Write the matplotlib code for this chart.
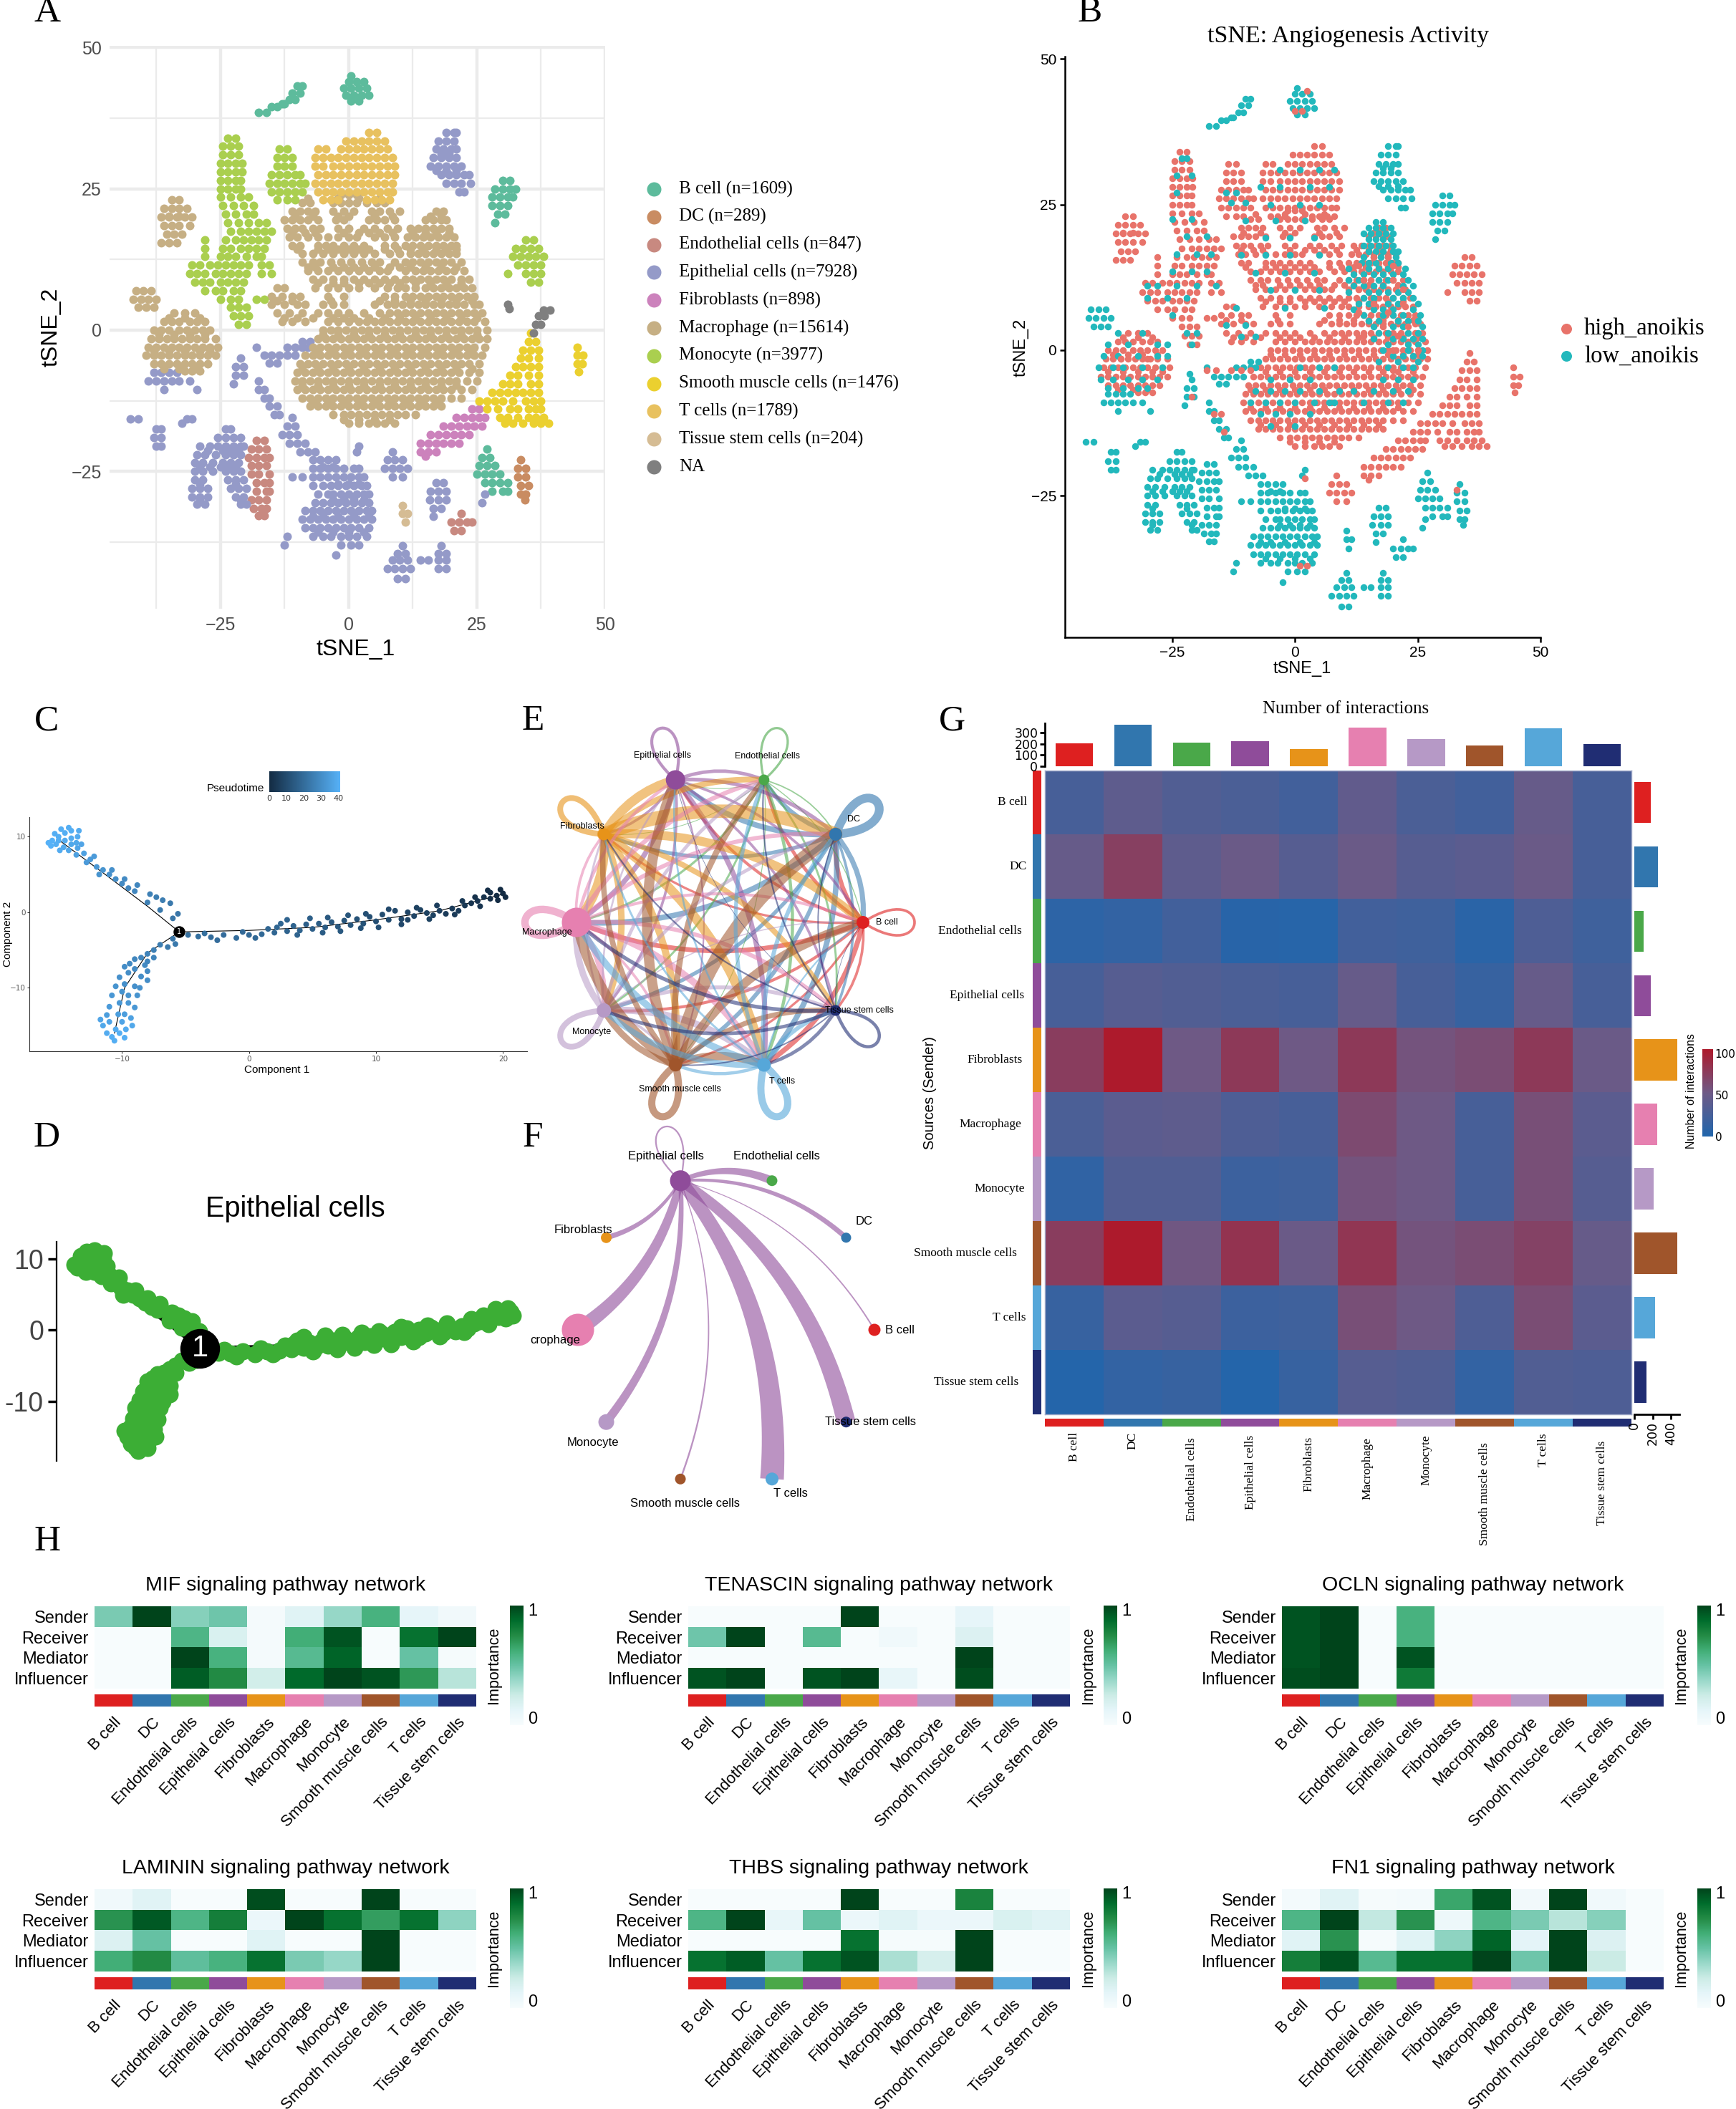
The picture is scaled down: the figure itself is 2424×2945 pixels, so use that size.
"""Multi-panel single cell figure: tSNE maps, trajectories, cell chat networks and heatmaps."""

import matplotlib
matplotlib.use("Agg")
import matplotlib.pyplot as plt
import numpy as np
from matplotlib.cm import ScalarMappable
from matplotlib.colors import LinearSegmentedColormap, ListedColormap, Normalize
from matplotlib.patches import FancyArrowPatch, PathPatch, Polygon
from matplotlib.path import Path

W, H = 2424, 2945
SERIF = "Liberation Serif"
SANS = "Liberation Sans"

# ---- panel A / B: tSNE points, as (y, [x, ...]) rows
macro_rows = [
    (24, [-1.5, 0, 1.5]),
    (22.5, [-9, -7.5, -3, -1.5, 0, 1.5, 3.5, 5.5, 7]),
    (21, [-11, -9.5, -8, -6.5, -3, -1, 1, 4.5, 6, 8, 10, 17, 18.5]),
    (19.5, [-12.5, -11, -9.5, -8, -6, -2.5, -1, 4, 5.5, 7, 9, 15, 16.5, 18, 19]),
    (18, [-12, -10.5, -9, -7, -5.5, -2, 0, 3, 5, 7.5, 9.5, 12, 13.5, 15, 16.5, 18, 19.5]),
    (16.5, [-11.5, -10, -8, -6, -4, -2, 0, 1.5, 5, 7, 9, 11.5, 13, 14.5, 16, 17.5, 19, 20.5]),
    (15, [-11, -9.5, -6, -4.5, -3, -1, 1, 3, 7, 9, 11, 12.5, 14, 15.5, 17, 18.5, 20, 21]),
    (13.5, [-9, -7, -5, -3, -1, 1, 3, 5, 8, 10, 12, 13.5, 15, 16.5, 18, 19.5, 21]),
    (12, [-9, -7, -5.5, -3.5, -1.5, 0.5, 2.5, 4.5, 6, 9, 11, 12.5, 14, 15.5, 17, 18.5, 20, 22]),
    (10.5, [-8, -6, -4, -2, 0, 2, 4, 6, 7.5, 11, 13, 14.5, 16, 17.5, 19, 20.5, 22.5]),
    (9, [-7, -5, -3, -1, 1, 3, 5, 7, 9, 11, 12.5, 14, 15.5, 17, 18.5, 20, 22, 23.5]),
    (7.5, [-14, -12.5, -6.5, -4, -2, 0, 2, 5, 7.5, 9.5, 11, 13, 15, 16.5, 18, 19.5, 21, 22.5, 24]),
    (6, [-15, -13, -11, -9.5, -4, -1, 7, 9, 11, 12.5, 14, 15.5, 17, 18.5, 20, 21.5, 23, 24.5]),
    (4.5, [-15, -12.5, -10, -8.5, -5, -3, -1, 5, 7.5, 9, 10.5, 12, 13.5, 15, 16.5, 18, 19.5, 21, 22.5, 24.5, 25.5]),
    (3, [-14, -11.5, -9, -6, -4, -2, 0, 3, 6, 8, 9.5, 11, 12.5, 14, 15.5, 17, 18.5, 20, 21.5, 23, 24.5, 26]),
    (1.5, [-13, -11, -8.5, -4, -2, 0, 2, 3.5, 5, 6.5, 8, 9.5, 11, 12.5, 14, 15.5, 17, 18.5, 20, 21.5, 23, 24.5, 26.5]),
    (0, [-5, -3.5, -2, -0.5, 1, 2.5, 4, 5.5, 7, 8.5, 10, 11.5, 13, 14.5, 16, 17.5, 19, 20.5, 22, 23.5, 25, 27]),
    (-1.5, [-6, -4.5, -3, -1.5, 0, 1.5, 3, 4.5, 6, 7.5, 9, 10.5, 12, 13.5, 15, 16.5, 18, 19.5, 21, 22.5, 24, 25.5, 27]),
    (-3, [-7, -5.5, -4, -2.5, -1, 0.5, 2, 3.5, 5, 6.5, 8, 9.5, 11, 12.5, 14, 15.5, 17, 18.5, 20, 21.5, 23, 24.5, 26.5]),
    (-4.5, [-8.5, -7, -5.5, -4, -2.5, -1, 0.5, 2, 3.5, 5, 6.5, 8, 9.5, 11, 12.5, 14, 15.5, 17, 18.5, 20, 21.5, 23, 24.5, 26]),
    (-6, [-9.5, -8, -6.5, -5, -3.5, -2, -0.5, 1, 2.5, 4, 5.5, 7, 8.5, 10, 11.5, 13, 14.5, 16, 17.5, 19, 20.5, 22, 23.5, 25.5]),
    (-7.5, [-10, -8.5, -7, -5.5, -4, -2.5, -1, 0.5, 2, 3.5, 5, 6.5, 8, 9.5, 11, 12.5, 14, 15.5, 17, 18.5, 20, 21.5, 23.5, 25.5]),
    (-9, [-10.5, -9, -7.5, -6, -4.5, -3, -1.5, 0, 1.5, 3, 4.5, 6, 7.5, 9, 10.5, 12, 13.5, 15, 16.5, 18, 19.5, 21, 23, 25]),
    (-10.5, [-10, -8.5, -7, -5.5, -4, -2.5, -1, 0.5, 2, 3.5, 5, 6.5, 8, 9.5, 11, 12.5, 14, 15.5, 17, 18.5, 20, 22, 24]),
    (-12, [-9, -7.5, -6, -4.5, -3, -1.5, 0, 1.5, 3, 4.5, 6, 7.5, 9, 10.5, 12, 13.5, 15, 16.5, 18, 20, 22]),
    (-13.5, [-7.5, -6, -4.5, -3, -1.5, 0, 1.5, 3, 4.5, 6, 7.5, 9, 10.5, 12, 13.5, 15, 16.5, 18]),
    (-15, [-3, -1, 0.5, 2, 3.5, 5, 6.5, 8, 9.5, 11, 13]),
    (-16.5, [0, 2, 4, 5.5, 7, 9]),
    # left round cluster
    (3, [-34, -32, -30]),
    (1.5, [-36, -34.5, -33, -31, -29.5, -28]),
    (0, [-38, -36.5, -35, -33, -31.5, -30, -28.5, -27]),
    (-1.5, [-38.5, -37, -35.5, -34, -32.5, -31, -29.5, -28, -26]),
    (-3, [-39, -37.5, -36, -34.5, -33, -31.5, -30, -28.5, -27, -25.5]),
    (-4.5, [-39.5, -38, -36.5, -35, -33.5, -32, -30.5, -29, -27.5, -26]),
    (-6, [-38, -36.5, -35, -33.5, -32, -30.5, -29, -27.5]),
    (-7.2, [-32, -30.5, -29]),
    # upper left cluster
    (23, [-34.5, -33]),
    (21.5, [-36, -34.5, -33, -31.5]),
    (20, [-36.5, -35, -33.5, -32, -30.5]),
    (18.5, [-36, -34.5, -33, -31]),
    (17, [-35.5, -34, -32.5]),
    (15.5, [-36.5, -35, -33.5]),
    # rows that sit between the rows above
    (23.3, [-8, -2, 2, 6]),
    (20.2, [-10.5, -7, -2, 0, 5, 8.5, 16, 18, -35, -33]),
    (17.2, [-11, -8.5, -6.5, -1, 2, 4, 6, 8.5, 12.5, 15, 17, 19.5]),
    (14.3, [-10, -6, -4, -2, 0, 2, 4, 7, 9.5, 12, 14.5, 17, 19, 21]),
    (11.2, [-8, -6.5, -3, -1, 1, 3, 5, 8, 10, 12, 15, 18, 21]),
    (8.3, [-6, -3, -1, 2, 4, 6, 8, 10, 13, 16, 19, 22]),
    (5.2, [-14, -11, -3.5, 6, 9, 12, 15, 18, 21, 24]),
    (2.2, [-12.5, -10, -7, -3, -1, 1, 4, 7, 10, 13, 16, 19, 22, 25, -35, -32, -29]),
    (-0.8, [-5, -2, 1, 4, 7, 10, 13, 16, 19, 22, 25, -37, -34, -31, -28]),
    (-3.7, [-6, -3, 0, 3, 6, 9, 12, 15, 18, 21, 24, -38, -35, -32, -29, -27]),
    (-6.8, [-9, -6, -3, 0, 3, 6, 9, 12, 15, 18, 21, 24, -36, -33, -30]),
    (-9.8, [-9, -6, -3, 0, 3, 6, 9, 12, 15, 18, 21]),
    (-12.8, [-7, -4, -1, 2, 5, 8, 11, 14, 17]),
    (-15.8, [-1, 2, 5, 8]),
]
macro_island_rows = [
    (7, [-41.5, -40, -38.5]),
    (5.5, [-42, -40.5, -39, -37.5]),
    (4, [-41, -39.5, -38]),
]
mono_rows = [
    (34, [-23.5, -22]),
    (32.5, [-24.5, -23, -21.5]),
    (31, [-24.5, -23, -21.5]),
    (29.5, [-25, -23.5, -22, -20.8]),
    (28, [-25, -23.5, -22, -20.8]),
    (26.5, [-25, -23.5, -22, -21]),
    (25, [-25, -23.5, -22, -21]),
    (23.5, [-25, -23, -21, -19.5]),
    (22, [-24.5, -22.5, -20.5, -18.5]),
    (20.5, [-24, -22, -20, -18.5]),
    (19, [-23.5, -21.5, -19.5, -17.5, -16]),
    (17.5, [-23, -21, -19.5, -18, -16.5, -15]),
    (16, [-28, -24, -22, -20.5, -19, -17.5, -16]),
    (14.5, [-28, -24.5, -23, -21, -19.5, -18, -16.5]),
    (13, [-28, -25, -23.5, -22, -20, -18, -17]),
    (11.5, [-30.5, -29, -27, -25.5, -24, -22.5, -21, -19.5, -17, -15.5]),
    (10, [-31, -29.5, -28, -26, -24.5, -23, -21.5, -20, -17, -15]),
    (8.5, [-30, -28.5, -27, -25, -23.5, -22, -20.5]),
    (7, [-28, -26, -24.5, -22.5, -21]),
    (5.5, [-25, -23, -21.5, -18, -16.5]),
    (4, [-23, -21.5, -20]),
    (2.5, [-22.5, -21, -19.5]),
    (1, [-21.5, -20]),
    (32, [-13.5, -12]),
    (30.5, [-14, -12.5, -11]),
    (29, [-14, -12.5, -11]),
    (27.5, [-15, -13.5, -12, -10.5, -9.5]),
    (26, [-15.5, -14, -12.5, -11, -9.5, -8.5]),
    (24.5, [-15, -13.5, -12, -10.5, -9]),
    (23, [-14, -12, -10.5]),
    (16, [34.5, 36]),
    (14.5, [32.5, 34, 35.5, 37]),
    (13, [32, 33.5, 35, 36.5, 38]),
    (11.5, [33, 34.5, 36, 37.5]),
    (10, [31, 34.5, 36, 37.5]),
    (8.5, [35.5, 37]),
]
tcell_rows = [
    (35, [4, 5.5]),
    (33.5, [-0.5, 1, 2.5, 4, 5.5, 7]),
    (32, [-6, -4.5, -1.5, 0, 1.5, 3, 4.5, 6, 7.5]),
    (30.5, [-6.5, -5, -3.5, -2, -0.5, 1, 2.5, 4, 5.5, 7, 8.5]),
    (29, [-6.5, -5, -3, -1.5, 0, 1.5, 3, 4.5, 6, 7.5, 9]),
    (27.5, [-6, -4.5, -3, -1.5, 0, 1.5, 3, 4.5, 6, 7.5, 9]),
    (26, [-6.5, -5, -3.5, -2, -0.5, 1, 2.5, 4, 5.5, 7, 8.5]),
    (24.5, [-6, -4.5, -3, -1.5, 0, 1.5, 3, 4.5, 6, 7.5, 8.5]),
    (23, [-5, -3.5, -2, 3.5, 5, 6.5, 8]),
]
bcell_rows = [
    (45, [0.5]),
    (44, [0, 1.5, 3]),
    (42.8, [-1, 0.5, 2, 3.5]),
    (41.5, [-0.5, 1, 2.5, 4]),
    (40.5, [0.5, 2]),
    (38.5, [-17.5, -16]),
    (39.5, [-15, -14]),
    (40, [-13, -12.5]),
    (40.8, [-11.5, -10.5]),
    (42, [-11, -9.5]),
    (43.2, [-10, -9]),
    (26.5, [30, 31.5]),
    (25, [28.5, 30, 31.5, 32.5]),
    (23.5, [28, 29.5, 31, 32]),
    (22, [28, 29.5, 31]),
    (20.5, [29, 30.5]),
    (19, [28.5]),
    (-21, [27]),
    (-22.5, [26, 27.5]),
    (-24, [25.5, 27, 28.5]),
    (-25.5, [25, 26.5, 28, 29.5]),
    (-27, [26.5, 28, 29.5, 31]),
    (-28.5, [28, 30, 31]),
]
dc_rows = [
    (-23, [33.5]),
    (-24.5, [33, 34.5]),
    (-26, [33, 34.5]),
    (-27.5, [33.5, 35]),
    (-29, [33.5, 34.5]),
    (-30, [34.3]),
]
endo_rows = [
    (-19.5, [-18, -16.5]),
    (-21, [-19, -17.5, -16]),
    (-22.5, [-19.5, -18, -16.5, -15.5]),
    (-24, [-19, -17.5, -16]),
    (-25.5, [-19, -17.5, -15.5]),
    (-27, [-18, -16.5, -15.5]),
    (-28.5, [-18, -16, -15.5]),
    (-30, [-19, -17.5, -16]),
    (-31.5, [-18.5, -17, -16]),
    (-32.8, [-17.5, -16.5]),
    (-32.5, [22]),
    (-34, [20, 21.5, 23, 24]),
    (-35.5, [20.5, 22]),
]
fibro_rows = [
    (-14, [24, 25.5]),
    (-15.5, [21, 22.5, 24, 25.5, 26.5]),
    (-17, [18.5, 20, 21.5, 23, 24.5, 26]),
    (-18.5, [16, 17.5, 19, 20.5, 22, 23.5]),
    (-20, [14, 15.5, 17, 18.5, 20, 21.5]),
    (-21.5, [14, 15.5, 17]),
    (-22.3, [15]),
]
smooth_rows = [
    (-0.5, [35.5]),
    (-2, [35, 36.5]),
    (-3.5, [34, 35.5, 37]),
    (-5, [33.5, 35, 37]),
    (-6.5, [32.5, 34, 35.5, 37]),
    (-8, [31.5, 33, 35, 37]),
    (-9.5, [30, 31.5, 33, 35.5, 37]),
    (-11, [28, 29.5, 31, 32.5, 34, 35.5, 37]),
    (-12.5, [25.5, 27, 28.5, 30, 32, 34.5, 36, 37.5]),
    (-14, [27, 29, 31.5, 33, 35, 36.5, 37.5]),
    (-15.5, [29.5, 31, 33, 35, 36.5, 38]),
    (-16.5, [30.5, 32, 34, 36, 37.5, 39]),
    (-3, [44.5]),
    (-4.5, [44.5, 45.7]),
    (-6, [44.5, 45.5]),
    (-7.3, [44.8]),
]
stem_rows = [(-31, [10.5]), (-32.5, [10.5, 11.5]), (-34, [11])]
na_rows = [
    (3.5, [38, 39.2]),
    (2.5, [37, 38.2]),
    (1, [36.5, 37.5]),
    (-0.5, [36]),
    (4.5, [31]),
    (3.8, [31.3]),
]
epi_rows = [
    (35, [19, 20.5, 21]),
    (33.5, [17.5, 19, 20.5]),
    (32, [17, 18.5, 20, 21]),
    (30.5, [16.5, 18, 19.5, 21]),
    (29, [16, 17.5, 19, 20.5, 22]),
    (27.5, [18, 19.5, 21, 22.5, 23.5]),
    (26, [19, 20.5, 22, 23.8]),
    (24.5, [21.5, 22.5]),
    (-2, [-9, -7.5]),
    (-3, [-18, -12, -10.5, -9, -8]),
    (-4.5, [-16.5, -15, -13.5, -12, -10.5]),
    (-5.8, [-15.5, -14]),
    (-5, [-21]),
    (-6.5, [-22, -20.5]),
    (-8, [-22, -20.5]),
    (-9.5, [-22.5]),
    (-7.5, [-38, -36.5, -35, -33.5]),
    (-9, [-39, -37.5, -36, -34.5, -33, -31, -17.5]),
    (-10.5, [-36, -29.5, -17.5, -16.5]),
    (-12, [-16.5, -15.5]),
    (-13.5, [-15.5, -14]),
    (-15, [-14.5, -13.5]),
    (-15.7, [-42.5, -41, -31.5, -30.5]),
    (-16.5, [-32.5]),
    (-17.5, [-37.5, -36.5, -24, -23]),
    (-19, [-38, -36.5, -25.5, -24, -22.5, -21]),
    (-20.5, [-37.5, -36.5, -29, -27, -25.5, -24, -22.5, -21, -20.5]),
    (-22, [-29.5, -28, -26, -24, -22.5, -21]),
    (-23.5, [-30, -28.5, -26.5, -24.5, -23, -21.5]),
    (-25, [-30, -28.5, -26.5, -24, -22.5, -21]),
    (-26.5, [-30, -28.5, -23.5, -22, -20.5]),
    (-28, [-30.5, -29, -27.5, -23, -21.5, -20]),
    (-29.5, [-30.5, -29, -27.5, -22, -20.5]),
    (-30.8, [-29.5, -28, -21, -20]),
    (-15.5, [-11]),
    (-17, [-12, -10.5]),
    (-18.5, [-13, -11.5, -10]),
    (-20, [-11.5, -10, -8.5]),
    (-21.5, [-9.5, -8, -6.5, 1.5]),
    (-20.5, [2]),
    (-23, [-7, -5.5, -4, -2.5]),
    (-24.5, [-7, -5.5, -4, -2.5, -1, 1, 2]),
    (-26, [-11, -9, -7, -5.5, -4, -2.5, -1, 0.5, 2, 3]),
    (-27.5, [-7, -5, -3.5, -2, -0.5, 1, 2.5, 3.5]),
    (-29, [-6, -4, -3, -1.5, 0, 1.5, 3, 4, 26.5]),
    (-30.5, [-6.5, -5, -3.5, -2, -0.5, 1, 2.5, 4, 26]),
    (-32, [-8.5, -7, -5.5, -4, -2.5, -1, 0.5, 2, 3.5, 4.5]),
    (-33.5, [-9, -7.5, -6, -4.5, -3, -1.5, 0, 1.5, 3, 4.5]),
    (-35, [-8.5, -7, -5.5, -4, -2.5, -1, 0.5, 2, 4]),
    (-36.5, [-7, -5, -3.5, -1.5, 0, 1.5, 3.5, -12]),
    (-38, [-1.5, 0.5, 2, -12.5]),
    (-39.8, [-2.5]),
    (-27, [17, 18.5]),
    (-28.5, [16, 17.5, 19]),
    (-30, [15.8, 17.5, 19]),
    (-31.5, [16.5, 18]),
    (-33, [16.5]),
    (-38.2, [10.5, 18]),
    (-39.5, [9.5, 11, 17.5, 19]),
    (-40.7, [8.5, 10, 11.5, 14, 15.5, 17.5, 19]),
    (-42.2, [7.5, 9, 10.5, 12, 17.5, 19]),
    (-44, [9.5, 11]),
    # rows that sit between the rows above
    (-21.3, [-27.5, -24.5, -23, -21.5]),
    (-24.2, [-29, -27, -25, -23.5, -22, -3, -5]),
    (-27.2, [-29, -22, -2, 0, 2]),
    (-30, [-29, -21, -3, -1, 1, 3]),
    (-33, [-7, -5, -2, 1, 4]),
    (-35.8, [-6, -3, 0, 3]),
    (31.2, [18, 19.5]),
    (28.2, [17, 19, 21]),
]
epi_island_rows = [
    (-21.5, [8.5]),
    (-23, [7.5, 9, 10.5]),
    (-24.5, [7, 8.5, 10, 11.5]),
    (-26, [8.5, 10.5]),
]
# panel B only: points that differ from the cluster colouring
low_extra_rows = [
    (22, [16.5, 18]),
    (21, [15, 16.5, 18, 19.5]),
    (20, [14, 15.5, 17, 18.5, 20]),
    (19, [15, 16.5, 18, 19.5]),
    (18, [14, 15.5, 17, 18.5, 20]),
    (17, [15, 16.5, 18, 20, 21]),
    (16, [14, 16, 17.5, 19, 20.5]),
    (15, [13.5, 15, 16.5, 19.5, 21]),
    (14, [11, 15, 17, 19, 22.5]),
    (13, [12, 14, 16, 18, 20, 22]),
    (12, [11, 13, 17, 19, 23]),
    (11, [12, 14, 16, 18, 22, 24]),
    (10, [11, 15, 17, 19, 21, 23]),
    (9, [14, 16, 20, 22, 24]),
    (8, [13, 15, 19, 21, 25]),
    (7, [12, 16, 18, 20, 24]),
    (6, [14, 18, 20, 22, 25.5]),
    (5, [15, 17, 21, 23, 25]),
    (4, [16, 20, 22, 26]),
    (3, [17, 19, 23, 25]),
    (2, [16, 20, 22, 24, 26]),
    (1, [19, 23, 25]),
    (0, [18, 23, 26]),
    (-1, [20, 22, 24, 26]),
    (-2, [17, 21, 25]),
    (-3, [1, 5, 8, 19, 22, 24]),
    (-5, [-5, -1, 3, 18, 21, 24]),
    (-7, [-8, -5, -2, 1, 5, 9, 12, 16, 20, 23]),
    (-9, [-9, -6, -3, 0, 4, 7, 8, 14, 19, 22]),
    (-11, [-7, -4, -1, 3]),
    (-13, [-5, 0]),
    (31, [-3, 1, 5, 8]),
    (28, [-7, -3, 3, 7]),
    (25, [-5, 1, 5]),
    (22.3, [-10, -4, 2]),
    (19.3, [-6, -1, 4]),
    (16.3, [-11, -6, -1, 5]),
    (13.3, [-8, -2, 4]),
    (10.3, [-5, 0, 5]),
    (7.3, [-12, -2, 6]),
    (4.3, [-14, -10]),
    (2.3, [-11, -8]),
    (33, [-23, -22]),
    (30, [-24, -21]),
    (27, [-14, -12, -24]),
    (25.3, [-13, -10]),
    (22.5, [-25, -21]),
    (19.5, [-22, -18]),
    (16.5, [-24, -20, -17]),
    (13.5, [-25, -21, -18]),
    (11, [-30, -28, -24, -20, -16]),
    (9, [-30, -26, -22]),
    (6, [-25]),
    (3, [-22, -20, -36, -31]),
    (1, [-21, -38, -34, -28, -26]),
    (-1, [-39, -36, -32, -28, -26]),
    (-3, [-40, -37, -35, -31, -27]),
    (-5, [-39.5, -37, -34, -31, -28]),
    (-6.5, [-38, -35, -32, -30]),
    (-4, [-21.5]),
]
high_extra_rows = [
    (16, [16, 19]),
    (14.5, [13, 20]),
    (12, [14, 20]),
    (10.5, [13, 22]),
    (8, [16, 22]),
    (6.5, [13, 19]),
    (4, [18, 23]),
    (2.5, [14, 21]),
    (0, [20, 25]),
    (-3.5, [-13, -11, -9, -16, -18, 20]),
    (-11, [-16.5, -15]),
    (-14, [-14.5]),
    (41, [0, 1.5]),
    (44.5, [2.5]),
    (-1.5, [-35.5, -30]),
    (-8, [-21]),
    (-37, [1, 2.5]),
    (-22, [2]),
    (-24, [33]),
]

# ---- shared names and colours
cell_types = ["B cell", "DC", "Endothelial cells", "Epithelial cells", "Fibroblasts",
              "Macrophage", "Monocyte", "Smooth muscle cells", "T cells", "Tissue stem cells"]
cell_colors = ["#DE2020", "#3176AE", "#4AA849", "#8F4C9A", "#E79319",
               "#E680B0", "#B699C6", "#A0552B", "#56A7D9", "#202D73"]

tsne_legend = ["B cell (n=1609)", "DC (n=289)", "Endothelial cells (n=847)", "Epithelial cells (n=7928)",
               "Fibroblasts (n=898)", "Macrophage (n=15614)", "Monocyte (n=3977)",
               "Smooth muscle cells (n=1476)", "T cells (n=1789)", "Tissue stem cells (n=204)", "NA"]
tsne_colors = ["#5DBB9C", "#C98C62", "#C88980", "#949AC8", "#CC82BC", "#C6AF84",
               "#AACF4F", "#EBD02F", "#E8C15F", "#D5BC94", "#7F7F7F"]

# ---- panel C / D: (component 1, component 2, pseudotime)
traj_right = [
    (20, 2.5, 0), (19.5, 2.2, 0), (19, 2.6, 1), (19, 1.8, 1), (19.6, 1.6, 0), (18.5, 2.0, 2), (18, 1.5, 3),
    (18.2, 0.8, 3), (17.5, 1.2, 3), (17, 0.9, 4), (16.5, 0.2, 5), (16, 0.5, 5), (15.5, -0.2, 5), (15, 0.2, 6),
    (14.5, -0.4, 7), (14, -0.1, 7), (13.5, 0.3, 7), (13, -0.5, 8), (12.5, -1, 8), (12, -0.9, 9), (11.5, 0.2, 9),
    (11, -1, 10), (10.5, -0.3, 10), (10, -1.2, 11), (9.5, -0.6, 11), (9, -1.5, 12), (8.5, -0.9, 12),
    (8, -1.7, 13), (7.5, -1.1, 13), (7, -1.9, 14), (6.5, -1.3, 14), (6, -2.0, 15), (5.5, -1.5, 15),
    (5, -2.2, 16), (4.5, -1.6, 16), (4, -2.4, 17), (3.5, -1.8, 17), (3, -2.5, 17), (2.5, -1.5, 18),
    (2, -2.7, 18), (1.5, -2.2, 18), (1, -2.9, 19), (0, -3, 19), (-1, -3.4, 20), (-2, -3, 20),
    (-3, -3.3, 20), (-4, -3.2, 21), (-4.8, -3, 21),
    (19.8, 3, 0), (20.2, 2, 0), (18.8, 2.9, 1), (17.8, 2, 2), (16.8, 1.5, 4), (16.2, -0.3, 5), (14.8, 0.9, 6),
    (14.2, -0.9, 7), (13.2, 0.6, 7), (12.5, 0, 8), (12, -1.6, 9), (11, 0.4, 9), (10.2, -2, 11), (9.2, -0.2, 11),
    (8.8, -2.1, 12), (7.8, -0.4, 13), (7.2, -2.5, 14), (6.2, -0.7, 14), (5.8, -2.7, 15), (4.8, -0.8, 16),
    (3.8, -3, 17), (3, -1, 17), (2.2, -2, 18), (0.5, -3.4, 19), (-0.5, -2.6, 19), (-2.5, -3.7, 20), (-3.5, -2.8, 21),
]
traj_upper = [
    (-6, -0.8, 23), (-7, 0.3, 24), (-7.3, 2.0, 25), (-8, 1.3, 26), (-9, 2.8, 28), (-9.5, 3.2, 28), (-10, 3.8, 29),
    (-10.5, 4.4, 30), (-11, 5, 31), (-11.5, 5.6, 32), (-12, 6, 33), (-12.5, 7, 34), (-13, 7.8, 36), (-13.5, 8.5, 37),
    (-14, 9, 38), (-14.5, 9.5, 39), (-15, 9.5, 40), (-15.5, 9.5, 41), (-15, 10, 40), (-14.5, 10.5, 40),
    (-14, 10.8, 40), (-13.5, 10, 39), (-14, 9.8, 39), (-15.2, 9, 40), (-14.6, 8.6, 39), (-13.6, 9.2, 38),
    (-15.8, 9.2, 41), (-15.3, 10.4, 40), (-14.8, 11, 40), (-14.2, 11.2, 40), (-13.4, 10.8, 39), (-15.6, 8.8, 41),
    (-14.9, 8.2, 39), (-14.2, 8.2, 38), (-13.2, 9, 37), (-13.6, 7.6, 36), (-12.8, 6.6, 34), (-12.2, 7.4, 34),
    (-11.8, 5, 32), (-10.8, 5.6, 31), (-9.8, 4.4, 29), (-8.8, 3.6, 28), (-7.8, 2.4, 26), (-6.8, 1.6, 25),
    (-6.2, 1.2, 24), (-5.6, -0.2, 23),
]
traj_lower = [
    (-6, -3.5, 23), (-7, -4.3, 25), (-7.5, -5, 26), (-8, -5.5, 27), (-8.5, -6, 28), (-9, -6.2, 28), (-8.2, -7, 29),
    (-9, -7.5, 29), (-9.5, -8, 30), (-8.5, -8.5, 30), (-9.8, -9.5, 31), (-9, -9.8, 31), (-10, -10.5, 32),
    (-9.5, -11, 32), (-10.2, -12, 33), (-9.5, -12, 33), (-11, -12.5, 34), (-10.3, -13.5, 35), (-9.8, -13.5, 35),
    (-11, -14.5, 37), (-10, -14.5, 37), (-11.5, -15, 38), (-10.5, -15.5, 39), (-10.8, -16.5, 40),
    (-10.2, -16, 40), (-9.7, -15.5, 39),
    (-8, -6.5, 28), (-7.5, -6, 27), (-9.4, -6.8, 29), (-8, -7.8, 29), (-9.8, -7.2, 30), (-8, -9, 30), (-8.6, -10, 31),
    (-10.2, -8.6, 31), (-10.5, -9.8, 32), (-8.8, -11, 32), (-10.8, -11, 33), (-9, -12.6, 33), (-11.2, -13.6, 35),
    (-9.3, -14, 36), (-11.7, -14.2, 37), (-11.2, -16, 39), (-10.6, -17, 40), (-9.8, -16.6, 40), (-9.2, -15, 38),
    (-6.4, -4.6, 24), (-5.8, -4.2, 24),
]
branch_point = (-5.5, -2.6)
backbone_right = [(-5.5, -2.6), (0, -2.4), (5, -2.0), (10, -1.0), (15, 0.2), (20, 2.4)]
backbone_upper = [(-5.5, -2.6), (-8, 0.8), (-11, 4.6), (-15, 9.6)]
backbone_lower = [(-5.5, -2.6), (-8, -5.4), (-9.8, -10), (-10.6, -16)]

# ---- panel E / F: node sizes in the circle plots, edge weights of the Epithelial network
node_sizes_e = [18, 18, 15, 27, 17, 41, 20, 18, 19, 15]
node_sizes_f = [17, 14, 15, 29, 15, 45, 22, 15, 18, 15]
epi_weights = [2, 7, 11, 2, 7, 20, 12, 2.5, 33, 26]

# ---- panel G: number of interactions
interactions = [
    [25, 40, 32, 28, 22, 42, 28, 22, 45, 25],
    [45, 70, 40, 48, 35, 48, 35, 38, 48, 25],
    [8, 12, 22, 5, 4, 22, 20, 6, 30, 20],
    [25, 35, 32, 28, 25, 45, 25, 15, 45, 25],
    [72, 100, 50, 75, 50, 75, 55, 60, 75, 48],
    [28, 38, 40, 30, 25, 62, 50, 25, 58, 38],
    [10, 32, 32, 18, 20, 55, 50, 25, 58, 35],
    [72, 100, 52, 80, 48, 78, 55, 60, 68, 45],
    [15, 38, 35, 18, 20, 58, 50, 30, 60, 38],
    [2, 12, 15, 2, 15, 35, 32, 12, 32, 30],
]
incoming_totals = [205, 370, 210, 225, 155, 345, 245, 185, 335, 195]
outgoing_totals = [180, 255, 105, 180, 468, 248, 214, 473, 225, 135]
top_ticks = [0, 100, 200, 300]
right_ticks = [0, 200, 400]

# ---- panel H: signalling role heatmaps
role_names = ["Sender", "Receiver", "Mediator", "Influencer"]
mif_roles = [[.45, 1, .42, .48, .02, .15, .38, .6, .12, .04],
             [0, 0, .58, .18, .02, .62, .95, 0, .85, 1],
             [0, 0, 1, .6, .02, .55, .9, 0, .5, .01],
             [0, 0, .92, .75, .22, .88, 1, .95, .7, .3]]
tenascin_roles = [[0, 0, 0, 0, 1, 0, 0, .12, 0, 0],
                  [.48, 1, 0, .55, 0, .05, 0, .17, 0, 0],
                  [0, 0, 0, 0, 0, 0, 0, 1, 0, 0],
                  [.95, 1, 0, .95, 1, .1, 0, .97, 0, 0]]
ocln_roles = [[.95, 1, 0, .6, 0, 0, 0, 0, 0, 0],
              [.95, 1, 0, .6, 0, 0, 0, 0, 0, 0],
              [.95, 1, 0, .95, 0, 0, 0, 0, 0, 0],
              [.97, 1, 0, .82, 0, 0, 0, 0, 0, 0]]
laminin_roles = [[.05, .15, 0, 0, .97, 0, 0, 1, 0, 0],
                 [.72, .93, .58, .8, .08, 1, .85, .68, .85, .4],
                 [.17, .5, 0, 0, .15, 0, 0, 1, 0, 0],
                 [.62, .75, .52, .6, .85, .45, .38, 1, 0, 0]]
thbs_roles = [[0, 0, 0, 0, 1, 0, 0, .78, 0, 0],
              [.58, 1, .1, .5, .08, .15, .08, .08, .18, .15],
              [0, 0, 0, 0, .85, .01, .01, 1, 0, 0],
              [.85, .92, .5, .85, .95, .33, .2, 1, 0, 0]]
fn1_roles = [[.03, .15, .01, .03, .65, .95, .04, 1, .05, 0],
             [.58, 1, .27, .72, .07, .58, .45, .3, .42, 0],
             [.15, .72, .01, .15, .4, .9, .13, 1, .17, 0],
             [.8, .95, .55, .85, .85, 1, .48, 1, .25, 0]]

fig = plt.figure(figsize=(W / 100, H / 100), dpi=100, facecolor="white")


def px_axes(left, top, right, bottom):
    """Axes from a box given in picture pixels"""
    return fig.add_axes([left / W, 1 - bottom / H, (right - left) / W, (bottom - top) / H])


def px_text(x, y, text, **kw):
    """Figure text at a position given in picture pixels"""
    kw.setdefault("ha", "center")
    kw.setdefault("va", "center")
    fig.text(x / W, 1 - y / H, text, **kw)


def row_points(rows):
    """Turns (y, [x, ...]) rows into x and y lists"""
    xs, ys = [], []
    for y, row in rows:
        xs.extend(row)
        ys.extend([y] * len(row))
    return xs, ys


def dot_size(px):
    """Marker area for a dot with a diameter in pixels"""
    return (px * 0.72) ** 2


def panel_a():
    ax = px_axes(153, 64, 845, 850)
    ax.set_xlim(-46.6, 50)
    ax.set_ylim(-49.3, 50.3)
    for side in ax.spines.values():
        side.set_visible(False)
    ax.set_xticks([-25, 0, 25, 50])
    ax.set_yticks([-25, 0, 25, 50])
    ax.set_xticks([-37.5, -12.5, 12.5, 37.5], minor=True)
    ax.set_yticks([-37.5, -12.5, 12.5, 37.5], minor=True)
    ax.set_xticklabels(["\u221225", "0", "25", "50"])
    ax.set_yticklabels(["\u221225", "0", "25", "50"])
    ax.grid(which="major", color="#ebebeb", lw=3.2)
    ax.grid(which="minor", color="#ebebeb", lw=1.6)
    ax.set_axisbelow(True)
    ax.tick_params(which="both", length=0, labelsize=18, labelcolor="#4d4d4d", pad=8)
    for label in ax.get_xticklabels() + ax.get_yticklabels():
        label.set_family(SANS)
    groups = [bcell_rows, dc_rows, endo_rows, epi_rows + epi_island_rows, fibro_rows,
              macro_rows + macro_island_rows, mono_rows, smooth_rows, tcell_rows, stem_rows, na_rows]
    for rows, color in zip(groups, tsne_colors):
        xs, ys = row_points(rows)
        ax.scatter(xs, ys, s=dot_size(12), color=color, lw=0)
    px_text(497, 907, "tSNE_1", family=SANS, fontsize=23)
    px_text(72, 457, "tSNE_2", family=SANS, fontsize=23, rotation=90)
    legend = px_axes(900, 240, 1290, 680)
    legend.set_xlim(900, 1290)
    legend.set_ylim(680, 240)
    legend.axis("off")
    for i, (name, color) in enumerate(zip(tsne_legend, tsne_colors)):
        y = 264 + i * 38.8
        legend.scatter([913], [y], s=dot_size(20), color=color, lw=0)
        legend.text(948, y, name, family=SERIF, fontsize=18, va="center")


def panel_b():
    ax = px_axes(1487, 79, 2151, 890)
    ax.set_xlim(-46.8, 50)
    ax.set_ylim(-49.3, 50.4)
    ax.spines["top"].set_visible(False)
    ax.spines["right"].set_visible(False)
    ax.spines["left"].set_linewidth(1.8)
    ax.spines["bottom"].set_linewidth(1.8)
    ax.set_xticks([-25, 0, 25, 50])
    ax.set_yticks([-25, 0, 25, 50])
    ax.set_xticklabels(["\u221225", "0", "25", "50"], family=SANS)
    ax.set_yticklabels(["\u221225", "0", "25", "50"], family=SANS)
    ax.tick_params(labelsize=15, width=1.8, length=5)
    high = macro_rows + mono_rows + tcell_rows + fibro_rows + smooth_rows + epi_island_rows
    low = epi_rows + bcell_rows + dc_rows + endo_rows + stem_rows + macro_island_rows + low_extra_rows
    xs, ys = row_points(high)
    ax.scatter(xs, ys, s=dot_size(9.5), color="#E8736A", lw=0)
    xs, ys = row_points(low)
    ax.scatter(xs, ys, s=dot_size(9.5), color="#22B8BC", lw=0)
    xs, ys = row_points(high_extra_rows)
    ax.scatter(xs, ys, s=dot_size(9.5), color="#E8736A", lw=0)
    px_text(1883, 51, "tSNE: Angiogenesis Activity", family=SERIF, fontsize=24.5)
    px_text(1818, 934, "tSNE_1", family=SANS, fontsize=17)
    px_text(1426, 485, "tSNE_2", family=SANS, fontsize=17, rotation=90)
    legend = px_axes(2170, 440, 2420, 520)
    legend.set_xlim(2170, 2420)
    legend.set_ylim(520, 440)
    legend.axis("off")
    for y, name, color in [(459, "high_anoikis", "#E8736A"), (497, "low_anoikis", "#22B8BC")]:
        legend.scatter([2187], [y], s=dot_size(15), color=color, lw=0)
        legend.text(2212, y, name, family=SERIF, fontsize=23.5, va="center")


def panel_c(cmap):
    ax = px_axes(41, 1141, 736, 1468)
    ax.set_xlim(-17.3, 21.9)
    ax.set_ylim(-18.4, 12.6)
    for side in ("top", "right"):
        ax.spines[side].set_visible(False)
    for side in ("left", "bottom"):
        ax.spines[side].set_linewidth(0.8)
        ax.spines[side].set_color("#333333")
    ax.set_xticks([-10, 0, 10, 20])
    ax.set_yticks([-10, 0, 10])
    ax.tick_params(labelsize=7.5, length=2, width=0.6, labelcolor="#555555", pad=2)
    for rows in (backbone_right, backbone_upper, backbone_lower):
        ax.plot(*zip(*rows), color="black", lw=0.8, zorder=1)
    points = np.array(traj_right + traj_upper + traj_lower)
    ax.scatter(points[:, 0], points[:, 1], c=points[:, 2], cmap=cmap, vmin=0, vmax=41,
               s=dot_size(8), lw=0, zorder=2)
    ax.scatter(*branch_point, s=dot_size(15), color="black", zorder=3)
    ax.text(*branch_point, "1", color="white", fontsize=7, ha="center", va="center", zorder=4)
    px_text(387, 1494, "Component 1", family=SANS, fontsize=11)
    px_text(11, 1304, "Component 2", family=SANS, fontsize=11, rotation=90)
    px_text(369, 1101, "Pseudotime", family=SANS, fontsize=11, ha="right")
    cax = px_axes(376, 1077, 475, 1106)
    bar = fig.colorbar(ScalarMappable(Normalize(0, 41), cmap), cax=cax, orientation="horizontal")
    bar.outline.set_visible(False)
    bar.set_ticks([0, 10, 20, 30, 40])
    bar.ax.tick_params(labelsize=8, length=0, pad=3, labelcolor="#333333")


def panel_d():
    ax = px_axes(79, 1734, 745, 2040)
    ax.set_xlim(-17.3, 21.9)
    ax.set_ylim(-18.4, 12.4)
    for side in ("top", "right", "bottom"):
        ax.spines[side].set_visible(False)
    ax.spines["left"].set_linewidth(1.6)
    ax.set_xticks([])
    ax.set_yticks([-10, 0, 10])
    ax.tick_params(labelsize=27, length=9, width=2.5, labelcolor="#444444", pad=4)
    ax.set_yticklabels(["-10", "0", "10"], family=SANS)
    for rows in (backbone_right, backbone_upper, backbone_lower):
        ax.plot(*zip(*rows), color="black", lw=4.5, zorder=1)
    points = np.array(traj_right + traj_upper + traj_lower)
    ax.scatter(points[:, 0], points[:, 1], s=dot_size(24), color="#3CAE35", lw=0, zorder=2)
    ax.scatter(*branch_point, s=dot_size(54), color="black", zorder=3)
    ax.text(*branch_point, "1", color="white", fontsize=30, family=SANS, ha="center", va="center", zorder=4)
    px_text(412, 1688, "Epithelial cells", family=SANS, fontsize=28.5)


def node_positions():
    """Circle layout: cell types run counter clockwise from B cell"""
    angles = np.deg2rad(np.arange(len(cell_types)) * 36)
    return np.cos(angles), np.sin(angles)


def draw_loop(ax, x, y, lw, color, alpha):
    """Self interaction loop pointing away from the circle centre"""
    norm = np.hypot(x, y)
    ox, oy = x / norm, y / norm
    px, py = -oy, ox
    reach, spread = 0.48, 0.3
    verts = [(x, y),
             (x + ox * reach + px * spread, y + oy * reach + py * spread),
             (x + ox * reach - px * spread, y + oy * reach - py * spread),
             (x, y)]
    path = Path(verts, [Path.MOVETO, Path.CURVE4, Path.CURVE4, Path.CURVE4])
    ax.add_patch(PathPatch(path, fill=False, edgecolor=color, lw=lw, alpha=alpha, clip_on=False))


def panel_e():
    ax = px_axes(1005 - 260, 1288 - 272, 1005 + 260, 1288 + 272)
    ax.set_xlim(-1.3, 1.3)
    ax.set_ylim(-1.3, 1.3)
    ax.axis("off")
    xs, ys = node_positions()
    for i, row in enumerate(interactions):
        for j, value in enumerate(row):
            lw = 0.5 + 13 * (value / 100) ** 1.3
            if i == j:
                draw_loop(ax, xs[i], ys[i], lw, cell_colors[i], 0.6)
                continue
            ax.add_patch(FancyArrowPatch((xs[i], ys[i]), (xs[j], ys[j]), connectionstyle="arc3,rad=-0.2",
                                         arrowstyle="-", lw=lw, color=cell_colors[i], alpha=0.55,
                                         shrinkA=0, shrinkB=0))
    ax.scatter(xs, ys, s=[dot_size(d) for d in node_sizes_e], c=cell_colors, lw=0, zorder=5)
    label_xy = [(1238, 1288), (1192, 1144), (1072, 1056), (925, 1055), (813, 1154),
                (764, 1302), (826, 1441), (949, 1521), (1092, 1510), (1200, 1411)]
    for name, (x, y) in zip(cell_types, label_xy):
        px_text(x, y, name, family=SANS, fontsize=9, zorder=6)


def tapered_edge(ax, start, end, width, color):
    """Curved edge, narrower at the sender and widest at the receiver"""
    start, end = np.array(start), np.array(end)
    delta = end - start
    ctrl = (start + end) / 2 - 0.2 * np.array([delta[1], -delta[0]])
    t = np.linspace(0, 1, 40)[:, None]
    curve = (1 - t) ** 2 * start + 2 * t * (1 - t) * ctrl + t ** 2 * end
    tangent = np.gradient(curve, axis=0)
    normal = np.column_stack([-tangent[:, 1], tangent[:, 0]])
    normal /= np.hypot(normal[:, 0], normal[:, 1])[:, None]
    half = (width / 207 / 2) * (0.5 + 0.5 * t)
    outline = np.vstack([curve + normal * half, (curve - normal * half)[::-1]])
    ax.add_patch(Polygon(outline, closed=True, facecolor=color, edgecolor="none", alpha=0.6))


def panel_f():
    ax = px_axes(1014 - 270, 1857 - 285, 1014 + 270, 1857 + 285)
    ax.set_xlim(-270 / 207, 270 / 207)
    ax.set_ylim(-285 / 219, 285 / 219)
    ax.axis("off")
    xs, ys = node_positions()
    sender = cell_types.index("Epithelial cells")
    for j, weight in enumerate(epi_weights):
        if j == sender:
            draw_loop(ax, xs[j], ys[j], 1.6, cell_colors[sender], 0.6)
            continue
        tapered_edge(ax, (xs[sender], ys[sender]), (xs[j], ys[j]), weight, cell_colors[sender])
    ax.scatter(xs, ys, s=[dot_size(d) for d in node_sizes_f], c=cell_colors, lw=0, zorder=5)
    # the Macrophage label is cut off on the left side in the figure
    names = ["B cell", "DC", "Endothelial cells", "Epithelial cells", "Fibroblasts",
             "crophage", "Monocyte", "Smooth muscle cells", "T cells", "Tissue stem cells"]
    label_xy = [(1256, 1857), (1207, 1706), (1084, 1615), (930, 1614), (814, 1717),
                (775, 1871), (828, 2015), (956, 2099), (1104, 2086), (1216, 1985)]
    for name, (x, y) in zip(names, label_xy):
        px_text(x, y, name, family=SANS, fontsize=12, zorder=6)


def color_strip(ax, vertical=False):
    """Row or column of cell type colours"""
    order = np.arange(len(cell_types))
    strip = order[:, None] if vertical else order[None, :]
    ax.imshow(strip, cmap=ListedColormap(cell_colors), aspect="auto", interpolation="nearest")
    ax.set_xticks([])
    ax.set_yticks([])
    for side in ax.spines.values():
        side.set_visible(False)


def panel_g():
    left, right, top, bottom = 1459, 2278, 1075.5, 1975
    heat_cmap = LinearSegmentedColormap.from_list("interactions", ["#2166AC", "#6E5A86", "#AD1A2C"])
    ax = px_axes(left, top, right, bottom)
    ax.imshow(interactions, cmap=heat_cmap, vmin=0, vmax=100, aspect="auto", interpolation="nearest")
    ax.set_xticks([])
    ax.set_yticks([])
    for side in ax.spines.values():
        side.set_color("#A3ACCB")
        side.set_linewidth(1)
    color_strip(px_axes(1442, top, 1454, bottom), vertical=True)
    color_strip(px_axes(left, 1981, right, 1992))

    bars = px_axes(left, 1010, right, 1070)
    bars.bar(range(10), incoming_totals, width=0.64, color=cell_colors)
    bars.set_xlim(-0.5, 9.5)
    bars.set_ylim(0, 382)
    bars.set_xticks([])
    bars.set_yticks(top_ticks)
    bars.tick_params(labelsize=12.5, width=2, length=5, pad=2)
    for side in ("top", "right", "bottom"):
        bars.spines[side].set_visible(False)
    bars.spines["left"].set_linewidth(2)

    side_bars = px_axes(2282, top, 2345, bottom)
    side_bars.barh(range(10), outgoing_totals, height=0.64, color=cell_colors)
    side_bars.set_ylim(9.5, -0.5)
    side_bars.set_xlim(0, 494)
    side_bars.set_yticks([])
    side_bars.set_xticks(right_ticks)
    side_bars.tick_params(labelsize=12.5, width=2, length=5, pad=2, labelrotation=90)
    for side in ("top", "right", "left"):
        side_bars.spines[side].set_visible(False)
    side_bars.spines["bottom"].set_linewidth(2)

    px_text(1879, 990, "Number of interactions", family=SERIF, fontsize=18)
    px_text(1298, 1526, "Sources (Sender)", family=SANS, fontsize=14.5, rotation=90)

    cell_h = (bottom - top) / 10
    cell_w = (right - left) / 10
    row_right = [1434, 1434, 1427, 1430, 1428, 1426, 1431, 1420, 1433, 1422]
    col_top = [2000, 2000, 2007, 2004, 2006, 2007, 2004, 2014, 2002, 2012]
    for i, name in enumerate(cell_types):
        px_text(row_right[i], top + (i + 0.5) * cell_h, name, family=SERIF, fontsize=12.5, ha="right")
        px_text(left + (i + 0.5) * cell_w, col_top[i], name, family=SERIF, fontsize=12.5,
                rotation=90, va="top")

    cax = px_axes(2377, 1465, 2392, 1587)
    bar = fig.colorbar(ScalarMappable(Normalize(0, 105), heat_cmap), cax=cax)
    bar.outline.set_visible(False)
    bar.set_ticks([0, 50, 100])
    bar.ax.tick_params(labelsize=11, length=0, pad=2)
    px_text(2361, 1524, "Number of interactions", family=SANS, fontsize=11.5, rotation=90)


def role_heatmap(left, top, cbar_left, title, values):
    heat = px_axes(left, top, left + 533, top + 115)
    heat.imshow(values, cmap="BuGn", vmin=0, vmax=1, aspect="auto", interpolation="nearest")
    heat.set_xticks([])
    heat.set_yticks(range(4))
    heat.set_yticklabels(role_names, family=SANS)
    heat.tick_params(length=0, labelsize=17, pad=6)
    for side in heat.spines.values():
        side.set_visible(False)
    heat.set_title(title, family=SANS, fontsize=20.5, pad=16)

    strip = px_axes(left, top + 123, left + 533, top + 140)
    color_strip(strip)
    strip.set_xticks(range(10))
    strip.set_xticklabels(cell_types, family=SANS, rotation=46, ha="right", va="top", rotation_mode="anchor")
    strip.tick_params(length=0, labelsize=16, pad=8)

    cax = px_axes(cbar_left, top - 1, cbar_left + 19, top + 166)
    bar = fig.colorbar(ScalarMappable(Normalize(0, 1), "BuGn"), cax=cax, ticks=[])
    bar.outline.set_visible(False)
    px_text(cbar_left + 32, top + 7, "1", family=SANS, fontsize=17)
    px_text(cbar_left + 32, top + 158, "0", family=SANS, fontsize=17)
    px_text(cbar_left - 22, top + 82, "Importance", family=SANS, fontsize=15.5, rotation=90)


def panel_h():
    role_heatmap(132, 2243, 712, "MIF signaling pathway network", mif_roles)
    role_heatmap(961, 2243, 1541, "TENASCIN signaling pathway network", tenascin_roles)
    role_heatmap(1790, 2243, 2370, "OCLN signaling pathway network", ocln_roles)
    role_heatmap(132, 2638, 712, "LAMININ signaling pathway network", laminin_roles)
    role_heatmap(961, 2638, 1541, "THBS signaling pathway network", thbs_roles)
    role_heatmap(1790, 2638, 2370, "FN1 signaling pathway network", fn1_roles)


pseudo_cmap = LinearSegmentedColormap.from_list("pseudotime", ["#132B43", "#56B1F7"])
panel_a()
panel_b()
panel_c(pseudo_cmap)
panel_d()
panel_e()
panel_f()
panel_g()
panel_h()

for letter, x, y in [("A", 66, 18), ("B", 1522, 18), ("C", 65, 1007), ("D", 65, 1589), ("E", 744, 1007),
                     ("F", 744, 1589), ("G", 1329, 1007), ("H", 66, 2153)]:
    px_text(x, y, letter, family=SERIF, fontsize=37)

fig.savefig("out.png", dpi=100)
